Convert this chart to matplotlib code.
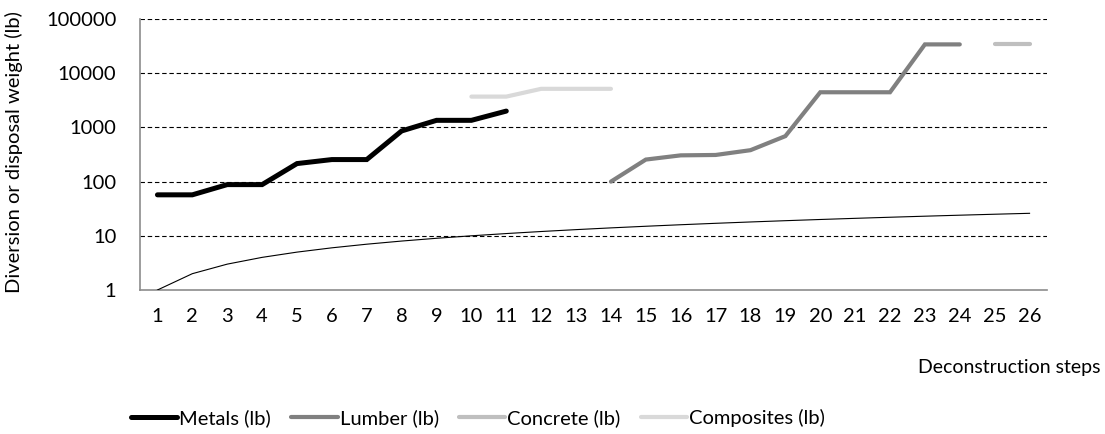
import matplotlib
matplotlib.use("Agg")
import matplotlib.pyplot as plt

plt.rcParams['font.family'] = ['Lato', 'DejaVu Sans']

steps = list(range(1, 27))
step_labels = [str(s) for s in steps]

metals_steps = list(range(1, 12))
metals = [57, 57, 88, 88, 215, 255, 255, 860, 1350, 1350, 2000]

lumber_steps = list(range(14, 25))
lumber = [100, 255, 305, 310, 380, 690, 4450, 4450, 4450, 34000, 34000]

concrete_steps = [25, 26]
concrete = [34000, 34000]

composites_steps = [10, 11, 12, 13, 14]
composites = [3700, 3700, 5150, 5150, 5150]

reference = steps  # cumulative step count

FS = 14.5
W, H = 1105, 434
fig = plt.figure(figsize=(W / 100, H / 100), dpi=100)
ax = fig.add_axes([140 / W, 1 - 290 / H, (1047 - 140) / W, (290 - 19) / H])

ax.plot(steps, reference, color='black', lw=0.8, zorder=3)
ax.plot(metals_steps, metals, color='black', lw=3.6, solid_capstyle='round',
        solid_joinstyle='miter', label='Metals (lb)', zorder=4)
ax.plot(lumber_steps, lumber, color='#808080', lw=3.0, solid_capstyle='round',
        solid_joinstyle='miter', label='Lumber (lb)', zorder=4)
ax.plot(concrete_steps, concrete, color='#bfbfbf', lw=3.0, solid_capstyle='round',
        label='Concrete (lb)', zorder=4)
ax.plot(composites_steps, composites, color='#d9d9d9', lw=3.0, solid_capstyle='round',
        solid_joinstyle='miter', label='Composites (lb)', zorder=4)

ax.set_yscale('log')
ax.set_ylim(1, 100000)
ax.set_xlim(0.5, 26.5)
ax.set_yticks([1, 10, 100, 1000, 10000, 100000])
ax.set_yticklabels(['1', '10', '100', '1000', '10000', '100000'])
ax.yaxis.set_minor_locator(matplotlib.ticker.NullLocator())
ax.set_xticks(steps)
ax.set_xticklabels(step_labels)
ax.tick_params(axis='both', length=0, labelsize=FS, colors='black')
ax.tick_params(axis='x', pad=13)
ax.tick_params(axis='y', pad=17)

for v in [10, 100, 1000, 10000, 100000]:
    ax.axhline(v, color='black', lw=0.8, ls=(0, (4, 2.5)), zorder=1)

for s in ['top', 'right']:
    ax.spines[s].set_visible(False)
for s in ['left', 'bottom']:
    ax.spines[s].set_color('#8c8c8c')
    ax.spines[s].set_linewidth(1.2)

fig.text(14 / W, 1 - 152 / H, 'Diversion or disposal weight (lb)', rotation=90,
         ha='center', va='center', fontsize=FS)
fig.text(1101 / W, 1 - 368 / H, 'Deconstruction steps', ha='right', va='center',
         fontsize=14)

fig.legend(loc='center', bbox_to_anchor=(478 / W, 1 - 418 / H), ncol=4,
           frameon=False, fontsize=FS, handlelength=2.3, handletextpad=0.1,
           columnspacing=1.0)

fig.savefig('out.png', dpi=100)
